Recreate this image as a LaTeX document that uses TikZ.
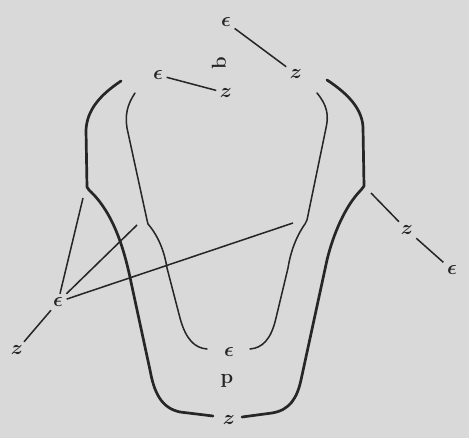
\documentclass[tikz,border=0pt]{standalone}
\usepackage{amsmath,amssymb}
\usepackage{tikz}
\usetikzlibrary{arrows.meta,calc}
\definecolor{paper}{HTML}{D9D9D9}
\definecolor{ink}{HTML}{262626}

\begin{document}
\begin{tikzpicture}[x=0.03cm, y=-0.03cm, every node/.style={font=\LARGE\boldmath, text=ink, inner sep=3pt},
	outer/.style={draw=ink, line width=2.3pt, line cap=round, line join=round},
	inner/.style={draw=ink, line width=1.3pt, line cap=round, line join=round},
	pointer/.style={draw=ink, line width=1.3pt}]
	\fill[paper] (0,0) rectangle (469,438);
	\path[use as bounding box] (0,0) rectangle (469,438);
	\draw[outer] (121,81) .. controls (100,95) and (87,110) .. (86,130) -- (87,187) -- (89,190) .. controls (113,212) and (124,248) .. (131,282) -- (150,370) .. controls (154,392) and (161,408) .. (180,412) -- (213,416);
	\draw[outer] (327,80) .. controls (350,95) and (362,110) .. (363,127) -- (364,186) -- (361,190) .. controls (345,206) and (333,235) .. (327,260) -- (301,380) .. controls (297,398) and (290,410) .. (272,413) -- (242,417);
	\draw[inner] (135,93) .. controls (127,105) and (125,115) .. (127,128) -- (147,220) -- (148,224) .. controls (160,238) and (165,255) .. (167,268) -- (180,318) .. controls (186,340) and (195,348) .. (207,349);
	\draw[inner] (317,93) .. controls (327,105) and (329,115) .. (326,128) -- (307,220) -- (305,224) .. controls (295,238) and (290,255) .. (288,268) -- (276,318) .. controls (271,340) and (262,348) .. (250,349);
	\node (et) at (226,22) {$\epsilon$};
	\node (zt) at (296,74) {$z$};
	\node[rotate=90, font=\LARGE\bfseries] (b) at (219,63) {b};
	\node (el) at (158,75) {$\epsilon$};
	\node (zl) at (226,93) {$z$};
	\node (zr) at (407,230) {$z$};
	\node (er) at (452,270) {$\epsilon$};
	\node (es) at (58,302) {$\epsilon$};
	\node (zs) at (17,350) {$z$};
	\node (eb) at (229,352) {$\epsilon$};
	\node[font=\LARGE\bfseries] (p) at (227,381) {p};
	\node (zb) at (229,420) {$z$};
	\coordinate (outnotchR) at (371,193);
	\coordinate (outnotchL) at (83,198);
	\coordinate (innotchL) at (137,225);
	\coordinate (innotchR) at (293,223);
	\draw[pointer] (et) -- (zt);
	\draw[pointer] (el) -- (zl);
	\draw[pointer] (outnotchR) -- (zr);
	\draw[pointer] (zr) -- (er);
	\draw[pointer] (es) -- (outnotchL);
	\draw[pointer] (es) -- (innotchL);
	\draw[pointer] (es) -- (innotchR);
	\draw[pointer] (zs) -- (es);
\end{tikzpicture}
\end{document}
